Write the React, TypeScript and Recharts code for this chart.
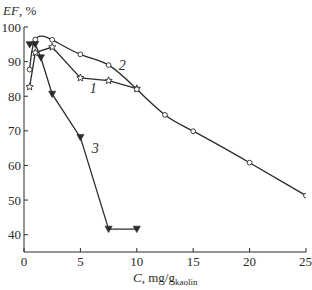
import { LineChart, Line, XAxis, YAxis, ReferenceDot } from 'recharts'

// EF (%) vs dose C (mg/g kaolin)
const dose1 = [0.5, 1, 2.5, 5, 7.5, 10]
const ef1 = [82.7, 92.6, 94.2, 85.3, 84.5, 82.2]

const dose2 = [0.5, 1, 2.5, 5, 7.5, 10, 12.5, 15, 20, 25]
const ef2 = [87.7, 96.4, 96.3, 92.1, 89.0, 82.0, 74.6, 69.9, 60.8, 51.3]

const dose3 = [0.5, 1, 1.5, 2.5, 5, 7.5, 10]
const ef3 = [94.9, 95.0, 91.1, 80.6, 68.1, 41.6, 41.6]

const xTicks = [0, 5, 10, 15, 20, 25]
const yTicks = [40, 50, 60, 70, 80, 90, 100]

// curve number labels, in data coordinates
const curveTags = [
  { name: '1', x: 6.14, y: 82.4 },
  { name: '2', x: 8.72, y: 89.0 },
  { name: '3', x: 6.32, y: 65.1 },
]

const s1 = dose1.map((c, i) => ({ c, ef: ef1[i] }))
const s2 = dose2.map((c, i) => ({ c, ef: ef2[i] }))
const s3 = dose3.map((c, i) => ({ c, ef: ef3[i] }))

const INK = '#2b2b2b'
const FONT = "'Liberation Serif', 'DejaVu Serif', serif"

function starPath(cx: number, cy: number, r: number) {
  const pts: string[] = []
  for (let k = 0; k < 10; k++) {
    const rr = k % 2 === 0 ? r : r * 0.45
    const a = -Math.PI / 2 + (k * Math.PI) / 5
    pts.push(`${(cx + rr * Math.cos(a)).toFixed(2)},${(cy + rr * Math.sin(a)).toFixed(2)}`)
  }
  return 'M' + pts.join('L') + 'Z'
}

const StarDot = (p: any) => (
  <path key={`s-${p.index}`} d={starPath(p.cx, p.cy, 3.8)} fill="#fff" stroke={INK} strokeWidth={0.9} />
)
const CircleDot = (p: any) => (
  <circle key={`c-${p.index}`} cx={p.cx} cy={p.cy} r={2.4} fill="#fff" stroke={INK} strokeWidth={0.9} />
)
const TriDot = (p: any) => (
  <path
    key={`t-${p.index}`}
    d={`M${p.cx - 3.6},${p.cy - 3}L${p.cx + 3.6},${p.cy - 3}L${p.cx},${p.cy + 3.4}Z`}
    fill={INK}
    stroke={INK}
    strokeWidth={0.6}
  />
)

const tickStyle = { fill: INK, fontSize: 13, style: { fontFamily: FONT } }

export default function App() {
  return (
    <div
      style={{
        position: 'absolute',
        left: 0,
        top: 0,
        width: 312,
        height: 290,
        background: '#fff',
        fontFamily: FONT,
      }}
    >
      <LineChart
        width={312}
        height={290}
        margin={{ top: 27, right: 6, left: 0, bottom: 7 }}
        style={{ fontFamily: FONT }}
      >
        <XAxis
          type="number"
          dataKey="c"
          domain={[0, 25]}
          ticks={xTicks}
          allowDataOverflow
          height={31}
          tick={tickStyle}
          tickSize={-4}
          tickMargin={9}
          axisLine={{ stroke: INK }}
          tickLine={{ stroke: INK }}
        />
        <YAxis
          type="number"
          dataKey="ef"
          domain={[35, 100]}
          ticks={yTicks}
          allowDataOverflow
          width={24}
          tick={tickStyle}
          tickSize={-4}
          tickMargin={7}
          axisLine={{ stroke: INK }}
          tickLine={{ stroke: INK }}
        />
        <Line
          data={s3}
          dataKey="ef"
          type="linear"
          stroke={INK}
          strokeWidth={1.3}
          dot={TriDot}
          isAnimationActive={false}
        />
        <Line
          data={s1}
          dataKey="ef"
          type="linear"
          stroke={INK}
          strokeWidth={1.3}
          dot={StarDot}
          isAnimationActive={false}
        />
        <Line
          data={s2}
          dataKey="ef"
          type="natural"
          stroke={INK}
          strokeWidth={1.3}
          dot={CircleDot}
          isAnimationActive={false}
        />
        {curveTags.map((t) => (
          <ReferenceDot
            key={t.name}
            x={t.x}
            y={t.y}
            r={0}
            stroke="none"
            fill="none"
            label={{
              value: t.name,
              position: 'center',
              fill: INK,
              fontSize: 14,
              fontStyle: 'italic',
              style: { fontFamily: FONT },
            }}
          />
        ))}
        <text x={3} y={15} fill={INK} fontSize={13} style={{ fontFamily: FONT }}>
          <tspan fontStyle="italic">EF</tspan>, %
        </text>
        <text x={133} y={282} fill={INK} fontSize={13} style={{ fontFamily: FONT }}>
          <tspan fontStyle="italic">C</tspan>, mg/g
          <tspan fontSize={9} dy={3}>kaolin</tspan>
        </text>
      </LineChart>
    </div>
  )
}
